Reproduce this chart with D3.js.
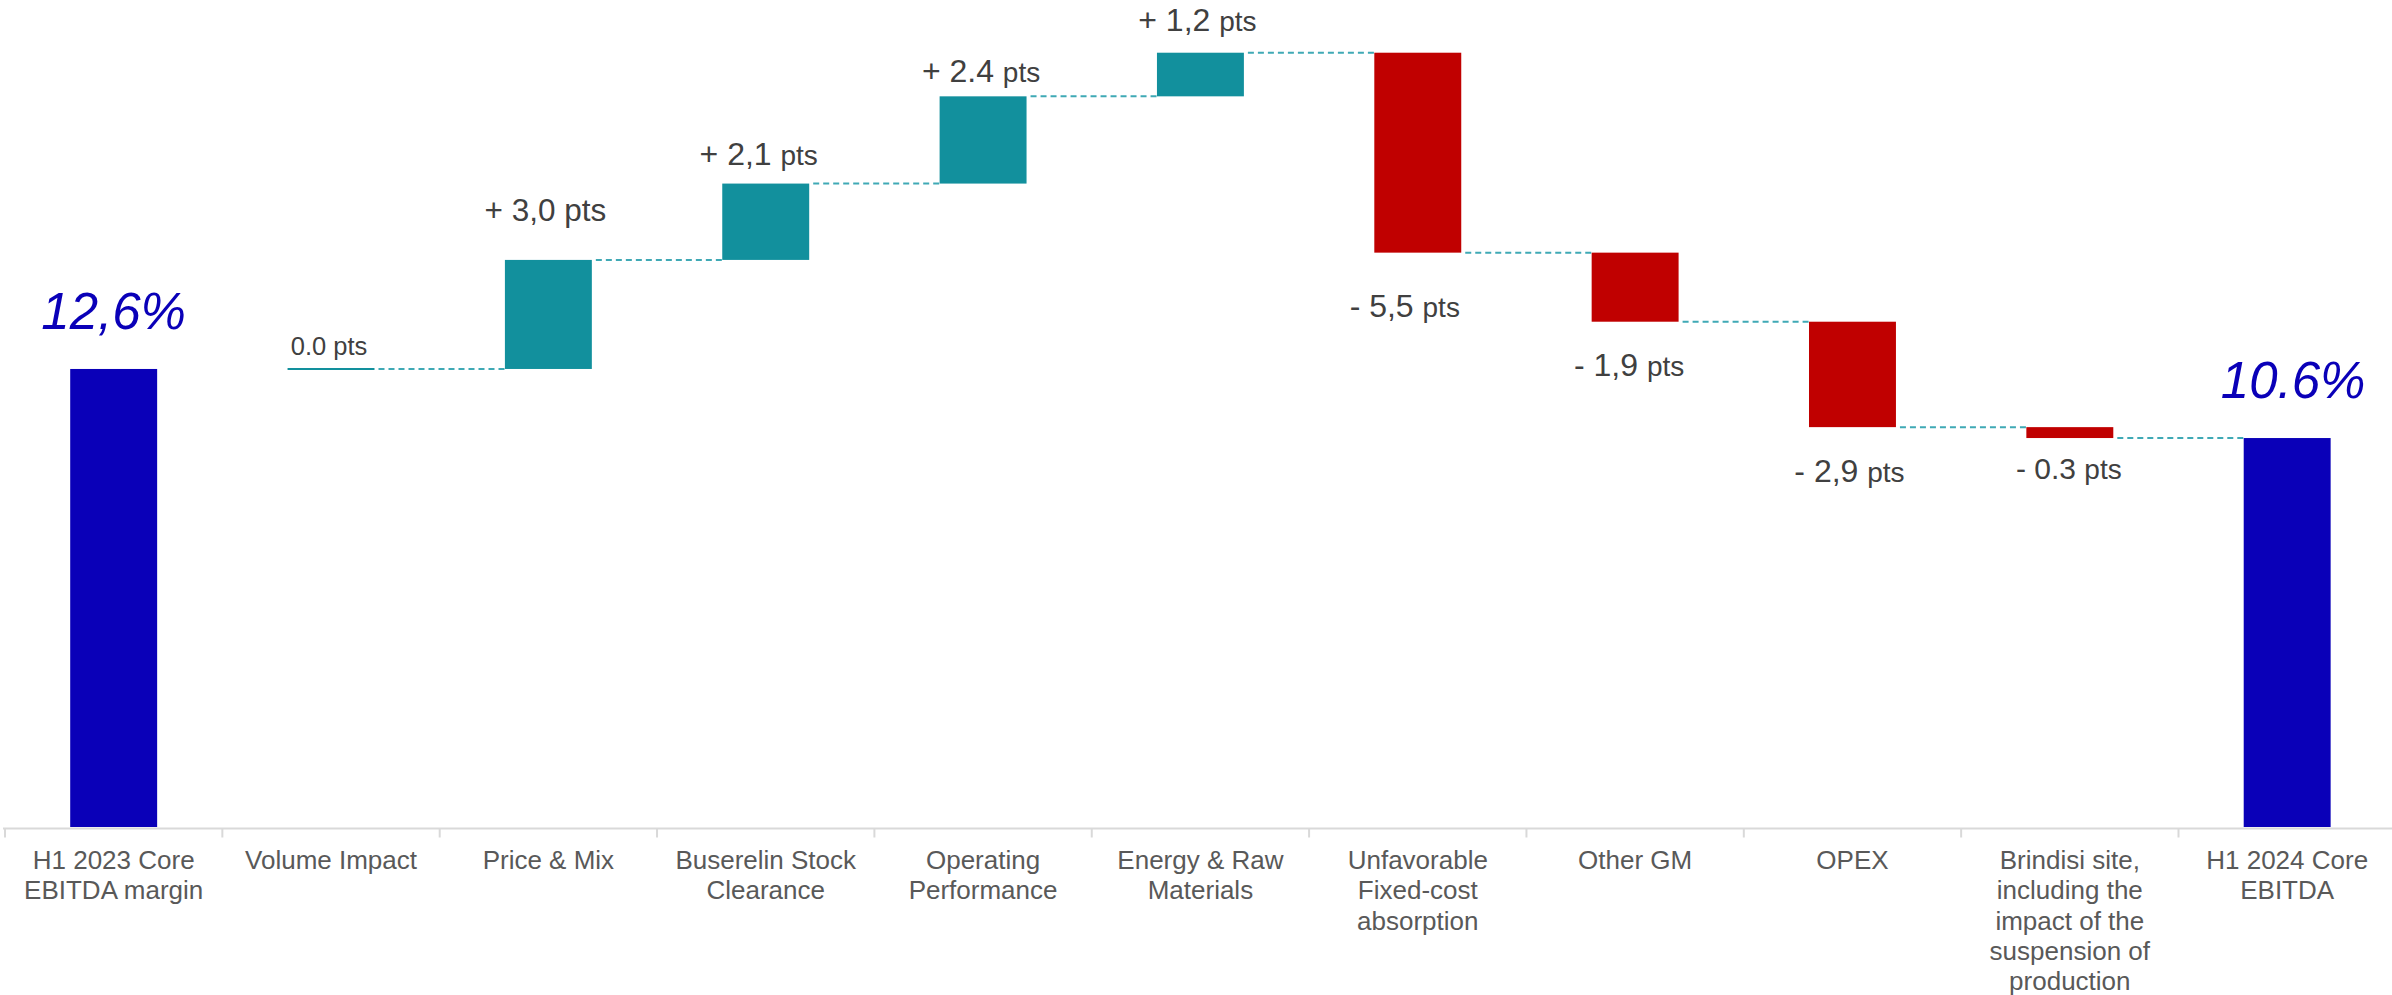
<!DOCTYPE html>
<html>
<head>
<meta charset="utf-8">
<script src="https://cdn.jsdelivr.net/npm/d3@7"></script>
<style>
body{margin:0;background:#fff;overflow:hidden}
svg text{font-family:"Liberation Sans",Arial,sans-serif}
</style>
</head>
<body>
<svg id="chart"></svg>
<script>
var WIDTH = 2392
var HEIGHT = 995

// data
var categories = [
    ["H1 2023 Core","EBITDA margin"],
    ["Volume Impact"],
    ["Price & Mix"],
    ["Buserelin Stock","Clearance"],
    ["Operating","Performance"],
    ["Energy & Raw","Materials"],
    ["Unfavorable","Fixed-cost","absorption"],
    ["Other GM"],
    ["OPEX"],
    ["Brindisi site,","including the","impact of the","suspension of","production"],
    ["H1 2024 Core","EBITDA"]
]
var kinds = ["start","delta","delta","delta","delta","delta","delta","delta","delta","delta","end"]
var values = [12.6, 0.0, 3.0, 2.1, 2.4, 1.2, -5.5, -1.9, -2.9, -0.3, null]
var numberLabels = ["12,6%","0.0","+ 3,0","+ 2,1","+ 2.4","+ 1,2","- 5,5","- 1,9","- 2,9","- 0.3","10.6%"]

// label styling / small nudges (not data)
var numSize = [51, 25.5, 31.5, 32, 32, 32, 32, 32, 32, 30, 51]
var ptsSize = [0, 25.5, 31.5, 28, 28, 28, 28, 28, 28, 28, 0]
var nudgeX = [0, -2, -3, -7, -2, -3, -13, -6, -3, -1, 6]
var nudgeY = [0, 0, -15, 5, 10, 2, 8, -2, -1, -15, 0]

var BLUE = "#0A00B8"
var TEAL = "#12909D"
var RED = "#C00000"
var DASH = "#3FA9B5"
var AXIS = "#D9D9D9"

var svg = d3.select("#chart")
    .attr("width", WIDTH)
    .attr("height", HEIGHT)

// running totals
var run = 0
var rows = categories.map(function(c, i){
    var r = {i:i, lines:c, kind:kinds[i], label:numberLabels[i]}
    if(r.kind=="start"){ r.y0 = 0; r.y1 = values[i]; run = values[i] }
    else if(r.kind=="end"){ r.y0 = 0; r.y1 = run }
    else { r.y0 = run; r.y1 = run + values[i]; run = r.y1 }
    return r
})

var step = 217.35
var x = d3.scaleBand()
    .domain(d3.range(categories.length))
    .range([5, 5 + categories.length*step])
    .paddingInner(0.6)
    .paddingOuter(0.3)
var bw = x.bandwidth()

var y = d3.scaleLinear()
    .domain([0, 22.75])
    .range([827, 0])

// connectors
var conn = rows.slice(1, rows.length-1)
svg.selectAll(".conn")
    .data(conn)
    .enter()
    .append("line")
    .attr("class","conn")
    .attr("x1", function(d){ return x(d.i) + bw + 4 })
    .attr("x2", function(d){ return x(d.i+1) })
    .attr("y1", function(d){ return y(d.y1) })
    .attr("y2", function(d){ return y(d.y1) })
    .attr("stroke", DASH)
    .attr("stroke-width", 2)
    .attr("stroke-dasharray", "6,4")

// bars
svg.selectAll(".bar")
    .data(rows.filter(function(d){ return d.y0 != d.y1 }))
    .enter()
    .append("rect")
    .attr("class","bar")
    .attr("x", function(d){ return x(d.i) })
    .attr("width", bw)
    .attr("y", function(d){ return y(Math.max(d.y0, d.y1)) })
    .attr("height", function(d){ return Math.abs(y(d.y0) - y(d.y1)) })
    .attr("fill", function(d){
        if(d.kind != "delta") return BLUE
        return d.y1 > d.y0 ? TEAL : RED
    })

// zero-size step drawn as a flat line
svg.selectAll(".flat")
    .data(rows.filter(function(d){ return d.y0 == d.y1 }))
    .enter()
    .append("line")
    .attr("class","flat")
    .attr("x1", function(d){ return x(d.i) })
    .attr("x2", function(d){ return x(d.i) + bw })
    .attr("y1", function(d){ return y(d.y1) })
    .attr("y2", function(d){ return y(d.y1) })
    .attr("stroke", TEAL)
    .attr("stroke-width", 2)

// axis line + ticks between categories
var axisY = y(0) + 1.5
svg.append("line")
    .attr("x1", x.range()[0] - 2)
    .attr("x2", WIDTH)
    .attr("y1", axisY)
    .attr("y2", axisY)
    .attr("stroke", AXIS)
    .attr("stroke-width", 2)

svg.selectAll(".tick")
    .data(d3.range(categories.length + 1))
    .enter()
    .append("line")
    .attr("class","tick")
    .attr("x1", function(k){ return x.range()[0] + k*x.step() })
    .attr("x2", function(k){ return x.range()[0] + k*x.step() })
    .attr("y1", axisY)
    .attr("y2", axisY + 9)
    .attr("stroke", AXIS)
    .attr("stroke-width", 2)

// category labels
var cat = svg.selectAll(".cat")
    .data(rows)
    .enter()
    .append("text")
    .attr("class","cat")
    .attr("text-anchor","middle")
    .attr("font-size", 26)
    .attr("fill", "#595959")

cat.selectAll("tspan")
    .data(function(d){ return d.lines.map(function(l){ return {l:l, cx:x(d.i) + bw/2} }) })
    .enter()
    .append("tspan")
    .attr("x", function(d){ return d.cx })
    .attr("y", function(d, j){ return 869 + j*30.3 })
    .text(function(d){ return d.l })

// value labels
var lab = svg.selectAll(".val")
    .data(rows)
    .enter()
    .append("text")
    .attr("class","val")
    .attr("text-anchor","middle")
    .attr("x", function(d){ return x(d.i) + bw/2 + nudgeX[d.i] })
    .attr("y", function(d){
        var top = y(Math.max(d.y0, d.y1))
        var bot = y(Math.min(d.y0, d.y1))
        var yy
        if(d.kind != "delta") yy = top - 40
        else if(d.y1 == d.y0) yy = top - 14
        else if(d.y1 > d.y0) yy = top - 24
        else yy = bot + 56
        return yy + nudgeY[d.i]
    })

lab.each(function(d){
    var t = d3.select(this)
    if(d.kind != "delta"){
        t.attr("fill", BLUE)
            .attr("font-style","italic")
            .attr("font-size", numSize[d.i])
            .text(d.label)
    } else {
        t.attr("fill", "#404040")
        t.append("tspan").attr("font-size", numSize[d.i]).text(d.label + " ")
        t.append("tspan").attr("font-size", ptsSize[d.i]).text("pts")
    }
})
</script>
</body>
</html>
